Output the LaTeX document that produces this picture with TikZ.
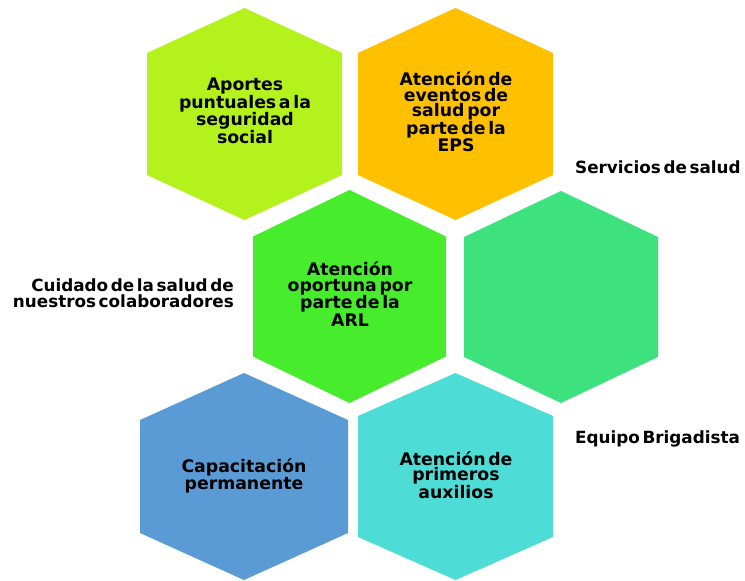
\documentclass[tikz,border=0pt]{standalone}
\usepackage{fontspec}
\setmainfont{DejaVu Sans}[WordSpace=0.45]
\definecolor{cLime}{HTML}{B3F21C}
\definecolor{cOrange}{HTML}{FFC000}
\definecolor{cGreen}{HTML}{47EC2D}
\definecolor{cEmerald}{HTML}{3DE27F}
\definecolor{cBlue}{HTML}{5B9BD5}
\definecolor{cTeal}{HTML}{4DDDD6}
\newcommand\hexat[6]{\fill[#6] (#1,#2-#4) -- (#1+#3,#2-#5) -- (#1+#3,#2+#5) -- (#1,#2+#4) -- (#1-#3,#2+#5) -- (#1-#3,#2-#5) -- cycle;}
\tikzset{
  hextext/.style={align=center, inner sep=0pt, text=black, font=\bfseries\fontsize{17.3}{15.6}\selectfont},
  sidetext/.style={inner sep=0pt, text=black, font=\bfseries\fontsize{16.8}{16.5}\selectfont}
}
\begin{document}
\begin{tikzpicture}[x=1pt,y=-1pt]
\useasboundingbox[fill=white] (0,0) rectangle (745,581);
\hexat{244.5}{114}{97.5}{106}{61}{cLime}
\hexat{455.5}{114}{97.5}{106}{61}{cOrange}
\hexat{349.5}{296.5}{96.5}{106.5}{60}{cGreen}
\hexat{561}{297}{97}{106}{60}{cEmerald}
\hexat{244}{476.5}{104}{103.5}{56.5}{cBlue}
\hexat{455.5}{476.5}{97.5}{103.5}{60.5}{cTeal}
\node[hextext] (t1) at (245,111) {Aportes\\puntuales a la\\seguridad\\social};
\node[hextext] (t2) at (456,112) {Atención de\\eventos de\\salud por\\parte de la\\EPS};
\node[hextext] (t3) at (350,294) {Atención\\oportuna por\\parte de la\\ARL};
\node[hextext] (t5) at (244,476) {Capacitación\\permanente};
\node[hextext] (t6) at (456,475) {Atención de\\primeros\\auxilios};
\node[sidetext, align=right, anchor=east] (l1) at (234,293) {Cuidado de la salud de\\nuestros colaboradores};
\node[sidetext, anchor=west] (l2) at (575,167) {Servicios de salud};
\node[sidetext, anchor=west] (l3) at (575,439) {Equipo Brigadista};
\end{tikzpicture}
\end{document}
